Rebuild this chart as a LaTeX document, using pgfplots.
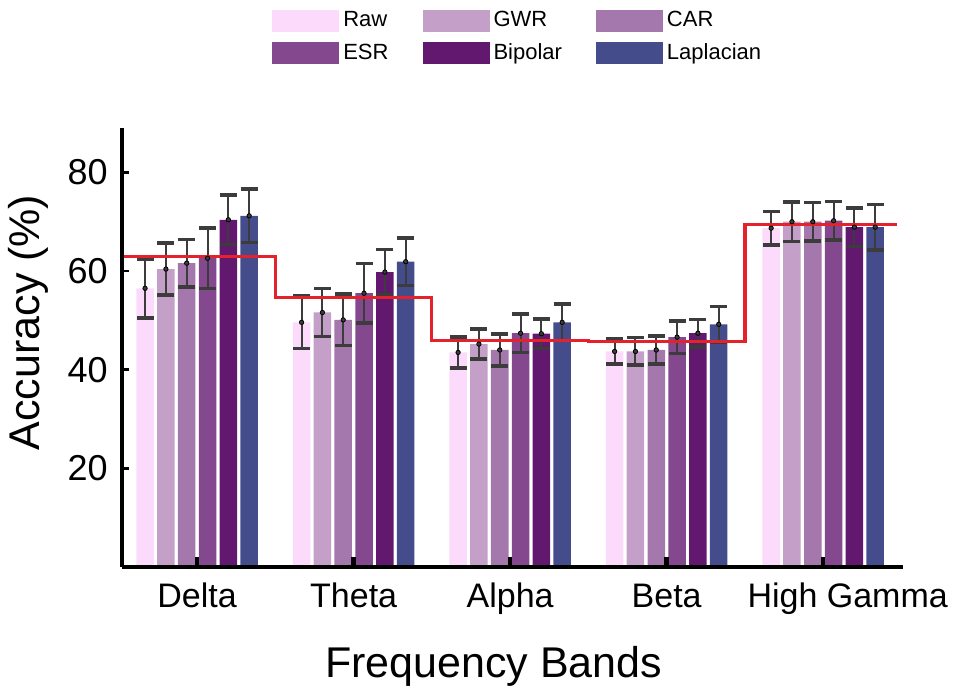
\documentclass[border=0pt]{standalone}
\usepackage{pgfplots}
\pgfplotsset{compat=1.18}
\usepackage{pgfplotstable}
\usepackage{fontspec}
\setmainfont{Liberation Sans}
\definecolor{craw}{HTML}{FCDAFC}
\definecolor{cgwr}{HTML}{C4A0C8}
\definecolor{ccar}{HTML}{A478AC}
\definecolor{cesr}{HTML}{84488E}
\definecolor{cbip}{HTML}{62186E}
\definecolor{clap}{HTML}{454C8C}
\definecolor{errgray}{HTML}{3C3C3C}
\definecolor{redline}{HTML}{E3222B}
\pgfplotstableread{
x raw rawe gwr gwre car care esr esre bip bipe lap lape
0 56.5 6.0 60.4 5.3 61.6 4.8 62.6 6.1 70.4 5.0 71.2 5.4
1 49.6 5.3 51.6 4.9 50.1 5.2 55.5 6.0 59.8 4.6 61.9 4.8
2 43.5 3.1 45.2 3.0 44.0 3.2 47.4 3.9 47.3 3.0 49.6 3.7
3 43.7 2.5 43.7 2.8 44.0 2.8 46.6 3.3 47.4 2.8 49.2 3.6
4 68.7 3.4 70.0 4.0 70.0 3.9 70.2 3.9 68.9 3.9 68.9 4.6
}\datatable
\pgfplotsset{
  mybar/.style={ybar, bar width=0.112, bar shift=0, draw=none,
    mark=*, mark size=1.1bp, mark options={fill=errgray, draw=none},
    error bars/y dir=both, error bars/y explicit,
    error bars/error bar style={line width=1bp, color=errgray},
    error bars/error mark options={rotate=90, line width=1.8bp, color=errgray, mark size=4.25bp}},
}
\begin{document}
\begin{tikzpicture}
\begin{axis}[
  scale only axis,
  width=390.5bp, height=219.5bp,
  xmin=-0.48, xmax=4.51, ymin=0, ymax=89,
  axis on top,
  axis x line*=bottom, axis y line*=left,
  axis line style={line width=2bp, black},
  xtick={0,1,2,3,4},
  xticklabels={Delta,Theta,Alpha,Beta,\hspace*{24.5bp}High Gamma},
  ytick={20,40,60,80},
  tick align=inside,
  major tick length=3.5bp,
  xtick style={line width=2.2bp, black, /pgfplots/major tick length=5bp},
  ytick style={line width=1.3bp, black},
  /pgf/number format/assume math mode=true,
  xticklabel style={font=\fontsize{17bp}{20bp}\selectfont, anchor=base, yshift=-20.5bp},
  yticklabel style={font=\fontsize{18bp}{21bp}\selectfont, anchor=east, inner sep=0pt, xshift=-7bp},
  xlabel={Frequency Bands},
  ylabel={Accuracy (\%)},
  xlabel style={font=\fontsize{21.5bp}{25bp}\selectfont, at={(axis description cs:0.476,-0.2506)}, anchor=base},
  ylabel style={font=\fontsize{21.5bp}{25bp}\selectfont, at={(axis description cs:-0.12,0.557)}, anchor=center},
  legend columns=3,
  legend cell align=left,
  legend image code/.code={\fill[#1, draw=none] (0bp,-5.5bp) rectangle (33.5bp,5.5bp);},
  legend style={at={(axis description cs:0.508,1.207)}, anchor=center, draw=none, fill=none,
    font=\fontsize{11bp}{13bp}\selectfont,
    /tikz/every even column/.append style={column sep=15bp},
    row sep=3bp},
  clip=false,
]
\addplot[mybar, fill=craw] table[x expr=\thisrow{x}-0.3325, y=raw, y error=rawe]{\datatable};
\addlegendentry{Raw}
\addplot[mybar, fill=cgwr] table[x expr=\thisrow{x}-0.1995, y=gwr, y error=gwre]{\datatable};
\addlegendentry{GWR}
\addplot[mybar, fill=ccar] table[x expr=\thisrow{x}-0.0665, y=car, y error=care]{\datatable};
\addlegendentry{CAR}
\addplot[mybar, fill=cesr] table[x expr=\thisrow{x}+0.0665, y=esr, y error=esre]{\datatable};
\addlegendentry{ESR}
\addplot[mybar, fill=cbip] table[x expr=\thisrow{x}+0.1995, y=bip, y error=bipe]{\datatable};
\addlegendentry{Bipolar}
\addplot[mybar, fill=clap] table[x expr=\thisrow{x}+0.3325, y=lap, y error=lape]{\datatable};
\addlegendentry{Laplacian}
\addplot[const plot, redline, line width=1.6bp, mark=none, forget plot] coordinates {
  (-0.48,62.9) (0.5,54.6) (1.5,46.0) (2.5,45.7) (3.5,69.5) (4.47,69.5)};
\coordinate (bl) at (rel axis cs:-0.1562,-0.2756);
\coordinate (tr) at (rel axis cs:1.0653,1.2916);
\end{axis}
\pgfresetboundingbox
\useasboundingbox (bl) rectangle (tr);
\end{tikzpicture}
\end{document}
